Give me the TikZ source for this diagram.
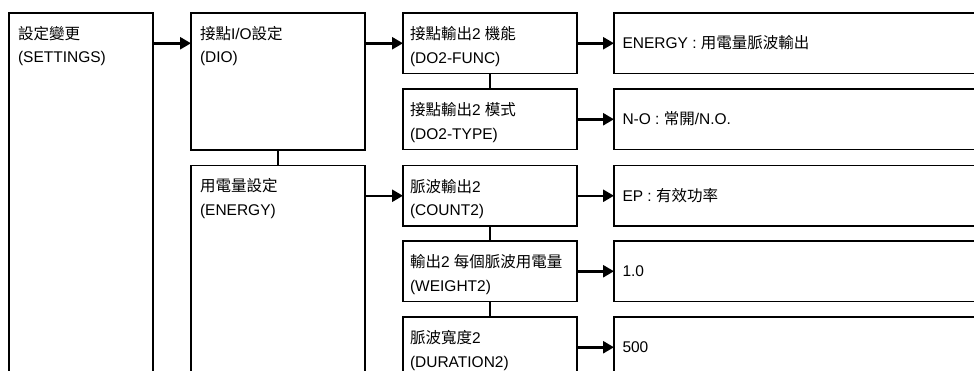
\documentclass[tikz,border=0pt]{standalone}
\usepackage{fontspec}
\setmainfont{Liberation Sans}
\newfontfamily\cjkfont{Noto Sans CJK TC}
\usetikzlibrary{arrows.meta}
\newcommand\zh[1]{{\cjkfont #1}}
\newcommand\twolines[2]{\vtop{\hbox{#1}\hbox{#2}}}
\begin{document}
\begin{tikzpicture}[x=1pt,y=-1pt,
  box/.style={draw=black, line width=1.3pt, anchor=north west, inner sep=0pt, outer sep=0pt, fill=white},
  txt/.style={anchor=base west, inner sep=0pt, outer sep=0pt, font=\fontsize{15.5}{23.5}\selectfont},
  arr/.style={-{Triangle[length=11pt,width=12pt]}, line width=2.5pt},
  link/.style={line width=2pt}]
\useasboundingbox (0,0) rectangle (974,370);
\fill[white] (0,0) rectangle (974,370);
\clip (0,0) rectangle (974,370);

% column 1 and 2
\node[box, minimum width=144pt, minimum height=420pt] (s) at (9,13) {};
\node[box, minimum width=174pt, minimum height=137pt] (dio) at (191,13) {};
\node[box, minimum width=174pt, minimum height=300pt] (en) at (191,165.5) {};
% column 3
\node[box, minimum width=174pt, minimum height=60.5pt] (f) at (403,13) {};
\node[box, minimum width=174pt, minimum height=60.5pt] (t) at (403,89) {};
\node[box, minimum width=174pt, minimum height=60.5pt] (c) at (403,165.5) {};
\node[box, minimum width=174pt, minimum height=60.5pt] (w) at (403,241) {};
\node[box, minimum width=174pt, minimum height=100pt] (d) at (403,317) {};
% values
\node[box, minimum width=420pt, minimum height=60.5pt] (vf) at (614,13) {};
\node[box, minimum width=420pt, minimum height=60.5pt] (vt) at (614,89) {};
\node[box, minimum width=420pt, minimum height=60.5pt] (vc) at (614,165.5) {};
\node[box, minimum width=420pt, minimum height=60.5pt] (vw) at (614,241) {};
\node[box, minimum width=420pt, minimum height=60.5pt] (vd) at (614,317) {};

% connectors
\draw[arr] ([yshift=-30.25pt]s.north east) -- ([yshift=-30.25pt]dio.north west);
\draw[arr] ([yshift=-30.25pt]dio.north east) -- (f.west);
\draw[arr] ([yshift=-30.25pt]en.north east) -- (c.west);
\draw[arr] (f.east) -- (vf.west);
\draw[arr] (t.east) -- (vt.west);
\draw[arr] (c.east) -- (vc.west);
\draw[arr] (w.east) -- (vw.west);
\draw[arr] ([yshift=-30.25pt]d.north east) -- (vd.west);
\draw[link] (dio.south) -- (en.north);
\draw[link] (f.south) -- (t.north);
\draw[link] (c.south) -- (w.north);
\draw[link] (w.south) -- (d.north);

% texts
\node[txt] (s-l) at ([xshift=9pt,yshift=-26pt]s.north west) {\twolines{\zh{設定變更}}{(SETTINGS)}};
\node[txt] (dio-l) at ([xshift=9pt,yshift=-26pt]dio.north west) {\twolines{\zh{接點}I/O\zh{設定}}{(DIO)}};
\node[txt] (en-l) at ([xshift=9pt,yshift=-26pt]en.north west) {\twolines{\zh{用電量設定}}{(ENERGY)}};
\node[txt] (f-l) at ([xshift=7pt,yshift=-26.5pt]f.north west) {\twolines{\zh{接點輸出}2 \zh{機能}}{(DO2-FUNC)}};
\node[txt] (t-l) at ([xshift=7pt,yshift=-26.5pt]t.north west) {\twolines{\zh{接點輸出}2 \zh{模式}}{(DO2-TYPE)}};
\node[txt] (c-l) at ([xshift=7pt,yshift=-26.5pt]c.north west) {\twolines{\zh{脈波輸出}2}{(COUNT2)}};
\node[txt] (w-l) at ([xshift=7pt,yshift=-26.5pt]w.north west) {\twolines{\zh{輸出}2 \zh{每個脈波用電量}}{(WEIGHT2)}};
\node[txt] (d-l) at ([xshift=7pt,yshift=-26.5pt]d.north west) {\twolines{\zh{脈波寬度}2}{(DURATION2)}};
\node[txt] (vf-l) at ([xshift=8.5pt,yshift=-35.5pt]vf.north west) {ENERGY : \zh{用電量脈波輸出}};
\node[txt] (vt-l) at ([xshift=8.5pt,yshift=-35.5pt]vt.north west) {N-O : \zh{常開}/N.O.};
\node[txt] (vc-l) at ([xshift=8.5pt,yshift=-35.5pt]vc.north west) {EP : \zh{有效功率}};
\node[txt] (vw-l) at ([xshift=8.5pt,yshift=-35.5pt]vw.north west) {1.0};
\node[txt] (vd-l) at ([xshift=8.5pt,yshift=-35.5pt]vd.north west) {500};
\end{tikzpicture}
\end{document}
